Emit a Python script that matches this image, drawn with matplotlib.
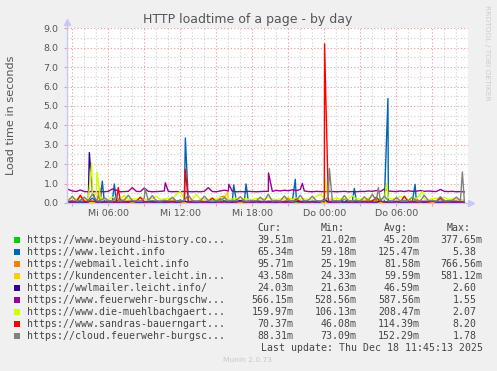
import matplotlib
matplotlib.use('Agg')
import matplotlib.pyplot as plt
from matplotlib.patches import Rectangle
import numpy as np

W, H = 497, 371

# sample times: hours since Mi 00:00, one sample every 20 minutes
hours = np.arange(8, 108) / 3.0

names = [
    'https://www.beyound-history.co...',
    'https://www.leicht.info',
    'https://webmail.leicht.info',
    'https://kundencenter.leicht.in...',
    'https://wwlmailer.leicht.info/',
    'https://www.feuerwehr-burgschw...',
    'https://www.die-muehlbachgaert...',
    'https://www.sandras-bauerngart...',
    'https://cloud.feuerwehr-burgsc...',
]
colors = ['#00CC00', '#0066B3', '#FF8000', '#FFCC00', '#330099',
          '#990099', '#CCFF00', '#FF0000', '#808080']

# legend statistics in seconds
cur = [0.03951, 0.06534, 0.09571, 0.04358, 0.02403, 0.56615, 0.15997, 0.07037, 0.08831]
mins = [0.02102, 0.05918, 0.02519, 0.02433, 0.02163, 0.52856, 0.10613, 0.04608, 0.07309]
avgs = [0.04520, 0.12547, 0.08158, 0.05959, 0.04659, 0.58756, 0.20847, 0.11439, 0.15229]
maxs = [0.37765, 5.38, 0.76656, 0.58112, 2.60, 1.55, 2.07, 8.20, 1.78]

green = [
    0.04, 0.03, 0.05, 0.03, 0.04, 0.12, 0.03, 0.04, 0.03, 0.05,
    0.03, 0.04, 0.10, 0.03, 0.04, 0.03, 0.05, 0.03, 0.04, 0.03,
    0.06, 0.03, 0.04, 0.03, 0.15, 0.04, 0.03, 0.05, 0.03, 0.04,
    0.03, 0.04, 0.08, 0.03, 0.04, 0.03, 0.05, 0.03, 0.04, 0.12,
    0.03, 0.04, 0.03, 0.05, 0.03, 0.04, 0.03, 0.09, 0.04, 0.03,
    0.05, 0.03, 0.04, 0.03, 0.04, 0.11, 0.03, 0.04, 0.03, 0.05,
    0.03, 0.04, 0.03, 0.04, 0.06, 0.03, 0.04, 0.03, 0.10, 0.04,
    0.03, 0.05, 0.03, 0.04, 0.03, 0.04, 0.13, 0.03, 0.04, 0.03,
    0.05, 0.03, 0.04, 0.03, 0.08, 0.04, 0.03, 0.05, 0.03, 0.04,
    0.03, 0.11, 0.04, 0.03, 0.05, 0.03, 0.04, 0.03, 0.04, 0.04,
]
blue = [
    0.08, 0.10, 0.07, 0.09, 0.12, 0.08, 0.25, 0.09, 0.07, 0.08,
    0.10, 0.07, 0.09, 0.18, 0.08, 0.07, 0.10, 0.08, 0.09, 0.07,
    0.08, 0.11, 0.07, 0.09, 0.08, 0.07, 0.10, 0.08, 0.15, 0.07,
    0.09, 0.08, 0.07, 0.10, 0.08, 0.09, 0.07, 0.08, 0.22, 0.09,
    0.07, 0.08, 0.10, 0.07, 0.09, 0.08, 0.07, 0.12, 0.08, 0.07,
    0.09, 0.08, 0.10, 0.07, 0.08, 0.09, 0.07, 0.18, 0.08, 0.10,
    0.07, 0.09, 0.08, 0.07, 0.10, 0.08, 0.09, 0.07, 0.08, 0.20,
    0.07, 0.09, 0.08, 0.10, 0.07, 0.08, 0.09, 0.12, 0.08, 0.07,
    0.10, 0.08, 0.07, 0.09, 0.08, 0.16, 0.07, 0.08, 0.09, 0.07,
    0.10, 0.08, 0.07, 0.09, 0.08, 0.07, 0.10, 0.08, 0.07, 0.07,
]
orange = [
    0.06, 0.08, 0.05, 0.35, 0.07, 0.06, 0.09, 0.05, 0.08, 0.06,
    0.07, 0.05, 0.30, 0.06, 0.08, 0.05, 0.07, 0.06, 0.05, 0.09,
    0.06, 0.05, 0.08, 0.07, 0.06, 0.05, 0.20, 0.06, 0.08, 0.05,
    0.07, 0.06, 0.05, 0.08, 0.06, 0.07, 0.05, 0.06, 0.30, 0.35,
    0.07, 0.06, 0.05, 0.08, 0.06, 0.05, 0.07, 0.06, 0.09, 0.05,
    0.06, 0.08, 0.05, 0.07, 0.06, 0.25, 0.05, 0.08, 0.06, 0.07,
    0.05, 0.06, 0.08, 0.05, 0.07, 0.06, 0.05, 0.09, 0.06, 0.05,
    0.07, 0.06, 0.05, 0.08, 0.06, 0.18, 0.05, 0.07, 0.06, 0.05,
    0.08, 0.06, 0.07, 0.05, 0.06, 0.08, 0.05, 0.22, 0.06, 0.07,
    0.05, 0.06, 0.08, 0.05, 0.07, 0.06, 0.09, 0.05, 0.08, 0.10,
]
yellow = [
    0.05, 0.04, 0.06, 0.04, 0.15, 0.05, 0.04, 0.06, 0.04, 0.05,
    0.04, 0.06, 0.04, 0.05, 0.20, 0.04, 0.06, 0.04, 0.05, 0.04,
    0.06, 0.04, 0.05, 0.12, 0.04, 0.06, 0.04, 0.05, 0.04, 0.06,
    0.04, 0.05, 0.04, 0.18, 0.06, 0.04, 0.05, 0.04, 0.06, 0.25,
    0.04, 0.05, 0.04, 0.06, 0.04, 0.05, 0.14, 0.04, 0.06, 0.04,
    0.05, 0.04, 0.06, 0.04, 0.05, 0.04, 0.06, 0.16, 0.04, 0.05,
    0.04, 0.06, 0.04, 0.05, 0.04, 0.06, 0.04, 0.12, 0.05, 0.04,
    0.06, 0.04, 0.05, 0.04, 0.06, 0.04, 0.05, 0.20, 0.04, 0.06,
    0.04, 0.05, 0.04, 0.06, 0.04, 0.15, 0.05, 0.04, 0.06, 0.04,
    0.05, 0.04, 0.06, 0.04, 0.05, 0.13, 0.04, 0.06, 0.04, 0.04,
]
indigo = [
    0.03, 0.04, 0.03, 0.05, 0.03, 0.04, 0.60, 0.03, 0.04, 0.03,
    0.05, 0.03, 0.04, 0.03, 0.04, 0.03, 0.10, 0.03, 0.04, 0.03,
    0.05, 0.03, 0.04, 0.03, 0.04, 0.03, 0.05, 0.03, 0.04, 0.12,
    0.03, 0.04, 0.03, 0.05, 0.03, 0.04, 0.03, 0.04, 0.03, 0.05,
    0.03, 0.04, 0.03, 0.15, 0.03, 0.04, 0.03, 0.05, 0.03, 0.04,
    0.03, 0.04, 0.03, 0.05, 0.03, 0.04, 0.03, 0.10, 0.03, 0.04,
    0.03, 0.05, 0.03, 0.04, 0.20, 0.03, 0.04, 0.03, 0.05, 0.03,
    0.04, 0.03, 0.04, 0.03, 0.05, 0.03, 0.04, 0.03, 0.12, 0.03,
    0.04, 0.03, 0.05, 0.03, 0.04, 0.03, 0.04, 0.03, 0.05, 0.03,
    0.04, 0.10, 0.03, 0.04, 0.03, 0.05, 0.03, 0.04, 0.03, 0.02,
]
purple = [
    0.70, 0.62, 0.59, 0.67, 0.59, 0.58, 0.60, 0.58, 0.59, 0.58,
    0.60, 0.72, 0.66, 0.58, 0.59, 0.60, 0.79, 0.60, 0.59, 0.77,
    0.60, 0.58, 0.59, 0.60, 0.62, 0.60, 0.58, 0.59, 0.58, 0.60,
    0.59, 0.58, 0.59, 0.58, 0.60, 0.79, 0.59, 0.58, 0.62, 0.66,
    0.62, 0.60, 0.58, 0.59, 0.58, 0.60, 0.59, 0.58, 0.59, 0.60,
    0.60, 0.60, 0.65, 0.62, 0.66, 0.63, 0.68, 0.64, 0.70, 0.62,
    0.59, 0.58, 0.60, 0.59, 0.58, 0.60, 0.59, 0.58, 0.59, 0.60,
    0.58, 0.59, 0.58, 0.60, 0.59, 0.62, 0.60, 0.64, 0.59, 0.72,
    0.62, 0.60, 0.59, 0.62, 0.59, 0.63, 0.60, 0.61, 0.64, 0.60,
    0.62, 0.60, 0.59, 0.70, 0.60, 0.59, 0.60, 0.58, 0.59, 0.57,
]
ygreen = [
    0.20, 0.25, 0.18, 0.35, 0.22, 0.20, 0.50, 0.45, 0.25, 0.20,
    0.18, 0.30, 0.22, 0.20, 0.40, 0.18, 0.22, 0.20, 0.25, 0.18,
    0.20, 0.22, 0.35, 0.18, 0.20, 0.25, 0.18, 0.45, 0.60, 0.22,
    0.20, 0.18, 0.45, 0.20, 0.22, 0.18, 0.25, 0.20, 0.30, 0.22,
    0.18, 0.20, 0.25, 0.18, 0.22, 0.20, 0.18, 0.25, 0.20, 0.22,
    0.28, 0.20, 0.18, 0.22, 0.20, 0.30, 0.18, 0.25, 0.20, 0.22,
    0.18, 0.20, 0.35, 0.45, 0.22, 0.20, 0.18, 0.25, 0.20, 0.22,
    0.18, 0.40, 0.20, 0.22, 0.18, 0.25, 0.35, 0.20, 0.22, 0.18,
    0.25, 0.20, 0.22, 0.35, 0.20, 0.18, 0.30, 0.22, 0.45, 0.20,
    0.18, 0.22, 0.25, 0.20, 0.30, 0.18, 0.22, 0.20, 0.18, 0.16,
]
red = [
    0.07, 0.09, 0.06, 0.40, 0.08, 0.07, 0.10, 0.06, 0.08, 0.07,
    0.09, 0.06, 0.08, 0.07, 0.06, 0.09, 0.07, 0.08, 0.30, 0.06,
    0.08, 0.07, 0.09, 0.06, 0.08, 0.07, 0.06, 0.09, 0.07, 0.08,
    0.06, 0.08, 0.07, 0.09, 0.06, 0.08, 0.25, 0.07, 0.06, 0.08,
    0.07, 0.09, 0.06, 0.08, 0.07, 0.06, 0.09, 0.07, 0.08, 0.06,
    0.08, 0.07, 0.09, 0.06, 0.08, 0.07, 0.06, 0.20, 0.07, 0.08,
    0.06, 0.08, 0.07, 0.09, 0.06, 0.08, 0.07, 0.06, 0.09, 0.07,
    0.08, 0.06, 0.08, 0.07, 0.09, 0.06, 0.08, 0.30, 0.07, 0.06,
    0.08, 0.07, 0.09, 0.06, 0.35, 0.07, 0.06, 0.08, 0.07, 0.09,
    0.06, 0.08, 0.07, 0.25, 0.06, 0.08, 0.07, 0.09, 0.06, 0.07,
]
gray = [
    0.12, 0.35, 0.10, 0.14, 0.30, 0.11, 0.45, 0.13, 0.10, 0.28,
    0.12, 0.11, 0.32, 0.10, 0.15, 0.40, 0.12, 0.11, 0.10, 0.25,
    0.13, 0.38, 0.11, 0.10, 0.14, 0.12, 0.30, 0.10, 0.11, 0.13,
    0.42, 0.12, 0.10, 0.11, 0.35, 0.13, 0.10, 0.12, 0.11, 0.28,
    0.10, 0.14, 0.12, 0.33, 0.11, 0.10, 0.13, 0.12, 0.30, 0.11,
    0.45, 0.10, 0.12, 0.11, 0.36, 0.13, 0.10, 0.12, 0.40, 0.11,
    0.14, 0.35, 0.12, 0.10, 0.13, 0.30, 0.11, 0.12, 0.10, 0.38,
    0.12, 0.11, 0.14, 0.10, 0.32, 0.12, 0.45, 0.11, 0.13, 0.35,
    0.12, 0.10, 0.28, 0.11, 0.13, 0.12, 0.30, 0.10, 0.11, 0.40,
    0.12, 0.13, 0.10, 0.33, 0.11, 0.12, 0.14, 0.30, 0.12, 0.09,
]

# short single-sample peaks (hour, seconds)
green_peaks = [(5.2, 0.38)]
blue_peaks = [(5.5, 1.13), (6.5, 0.98), (12.42, 3.35), (16.45, 0.93), (17.48, 0.98),
              (21.58, 1.22), (26.5, 0.75), (29.3, 5.38), (31.56, 0.96)]
orange_peaks = [(5.31, 0.77)]
yellow_peaks = [(15.95, 0.58)]
indigo_peaks = [(4.42, 2.6)]
purple_peaks = [(10.75, 1.04), (16.05, 0.96), (19.35, 1.55), (22.17, 1.01)]
ygreen_peaks = [(4.62, 2.07), (5.06, 1.6), (24.05, 1.25), (29.2, 1.0), (32.2, 0.58)]
red_peaks = [(6.83, 0.8), (12.42, 1.73), (24.02, 8.2)]
gray_peaks = [(9.06, 0.75), (24.42, 1.78), (28.5, 0.8), (35.5, 1.6)]

series = [(green, green_peaks), (blue, blue_peaks), (orange, orange_peaks),
          (yellow, yellow_peaks), (indigo, indigo_peaks), (purple, purple_peaks),
          (ygreen, ygreen_peaks), (red, red_peaks), (gray, gray_peaks)]


def merge(base, peaks):
    t = np.concatenate([hours, [p[0] for p in peaks]])
    v = np.concatenate([base, [p[1] for p in peaks]])
    order = np.argsort(t)
    return t[order], v[order]


def fx(px):
    return px / W


def fy(py):
    return 1 - py / H


fig = plt.figure(figsize=(W / 100, H / 100), dpi=100, facecolor='#F0F0F0')
ax = fig.add_axes([fx(67), fy(203), fx(468) - fx(67), fy(28.3) - fy(203)])
ax.set_facecolor('white')

xmin, xmax = 2.56, 35.97
ax.set_xlim(xmin, xmax)
ax.set_ylim(0, 9)

# grid
ax.set_xticks(np.arange(3, 36, 3))
ax.set_xticks(np.arange(3, 36, 1), minor=True)
ax.set_yticks(np.arange(0, 10, 1))
ax.set_yticks(np.arange(0.5, 9, 1), minor=True)
ax.grid(True, which='minor', color='#D0D0D0', linestyle=(0, (1, 2)), linewidth=0.8)
ax.grid(True, which='major', color='#E69A9A', linestyle=(0, (1, 2)), linewidth=0.8)
ax.set_axisbelow(True)

xlabels = []
for h in np.arange(3, 36, 3):
    if h % 6 == 0:
        day = 'Mi' if h < 24 else 'Do'
        xlabels.append(f'{day} {int(h % 24):02d}:00')
    else:
        xlabels.append('')
ax.set_xticklabels(xlabels)
ax.set_yticklabels([f'{v:.1f}' for v in np.arange(0, 10, 1)])
ax.tick_params(which='major', length=2, color='#E8A0A0', labelsize=6.8,
               labelcolor='#555555', pad=2)
ax.tick_params(axis='y', pad=4)
ax.tick_params(which='minor', length=0)
for s in ax.spines.values():
    s.set_visible(False)

for (base, peaks), c in zip(series, colors):
    t, v = merge(base, peaks)
    ax.plot(t, v, color=c, linewidth=1.0, clip_on=True)

# axes with arrows
acol = '#C8C8F4'
ax.plot([xmin, xmin], [0, 9.25], color=acol, lw=1, clip_on=False)
ax.plot([xmin, xmax + 0.2], [0, 0], color=acol, lw=1, clip_on=False)
ax.plot([xmin], [9.3], marker='^', color=acol, markersize=4, clip_on=False)
ax.plot([xmax + 0.25], [0], marker='>', color=acol, markersize=4, clip_on=False)

fig.text(fx(248), fy(19), 'HTTP loadtime of a page - by day', ha='center', va='center',
         fontsize=9, color='#555555')
fig.text(fx(11), fy(115), 'Load time in seconds', rotation=90, ha='center', va='center',
         fontsize=8.1, color='#555555')
fig.text(fx(486.5), fy(5), 'RRDTOOL / TOBI OETIKER', rotation=270, ha='center', va='top',
         fontsize=5.4, color='#CCCCCC')

# legend
mono = dict(family='DejaVu Sans Mono', fontsize=7.1, color='#444444', va='center')
cw = 5.97
col_end = [293.3, 356.7, 420.0, 482.7]
for hdr, xe in zip(['Cur:', 'Min:', 'Avg:', 'Max:'], col_end):
    fig.text(fx(xe - 2 * cw), fy(228), hdr, ha='right', **mono)


def fmt(v):
    if v < 1:
        return f'{v * 1000:.2f}m', 0
    return f'{v:.2f}', cw


for i, name in enumerate(names):
    y = 240 + 12 * i
    fig.patches.append(Rectangle((fx(14), fy(y + 3)), fx(6), 6 / H,
                                 transform=fig.transFigure, facecolor=colors[i],
                                 edgecolor='none'))
    fig.text(fx(26.7), fy(y), name, ha='left', **mono)
    for vals, xe in zip([cur, mins, avgs, maxs], col_end):
        s, shift = fmt(vals[i])
        fig.text(fx(xe - shift), fy(y), s, ha='right', **mono)

fig.text(fx(482.7), fy(348), 'Last update: Thu Dec 18 11:45:13 2025', ha='right', **mono)
fig.text(fx(247.7), fy(360), 'Munin 2.0.73', ha='center', va='center', fontsize=5.4,
         color='#C8C8C8')

fig.savefig('out.png', dpi=100, facecolor=fig.get_facecolor())
